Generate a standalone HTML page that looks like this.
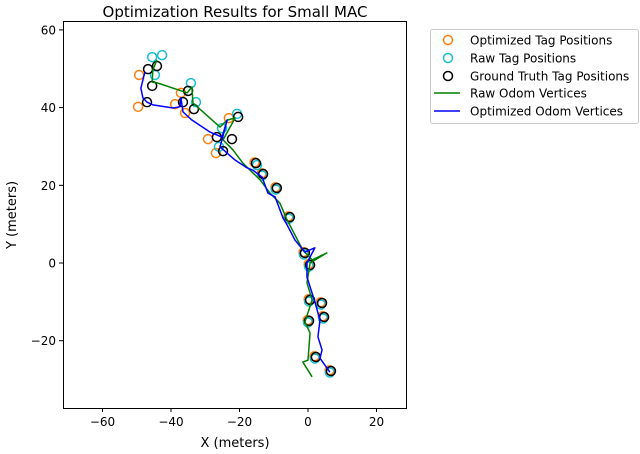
<!DOCTYPE html>
<html><head><meta charset="utf-8"><style>
html,body{margin:0;padding:0;background:#fff;}
svg{display:block;font-family:"DejaVu Sans","Liberation Sans",sans-serif;}
</style></head><body>
<svg id="chart" width="640" height="454" viewBox="0 0 640 454">
<text x="235" y="17" text-anchor="middle" font-size="15">Optimization Results for Small MAC</text>
<g id="plot"></g>
<rect x="63.5" y="21.5" width="343" height="387" fill="none" stroke="#000" stroke-width="1"/>
<g id="xticks"></g>
<g id="yticks"></g>
<text x="235" y="447" text-anchor="middle" font-size="13">X (meters)</text>
<text transform="translate(16,215) rotate(-90)" text-anchor="middle" font-size="13">Y (meters)</text>
<g>
<rect x="430.5" y="29.5" width="208" height="94" rx="2" fill="#fff" stroke="#ccc"/>
<g><circle cx="448" cy="40" r="4.5" fill="none" stroke="#ff7f0e" stroke-width="1.5"/><text x="470" y="44.5" font-size="12">Optimized Tag Positions</text></g>
<g><circle cx="448" cy="58" r="4.5" fill="none" stroke="#17becf" stroke-width="1.5"/><text x="470" y="62.5" font-size="12">Raw Tag Positions</text></g>
<g><circle cx="448" cy="76" r="4.5" fill="none" stroke="#000" stroke-width="1.5"/><text x="470" y="80.5" font-size="12">Ground Truth Tag Positions</text></g>
<g><line x1="434" y1="93" x2="460" y2="93" stroke="green" stroke-width="1.5"/><text x="470" y="97.5" font-size="12">Raw Odom Vertices</text></g>
<g><line x1="434" y1="111" x2="460" y2="111" stroke="blue" stroke-width="1.5"/><text x="470" y="115.5" font-size="12">Optimized Odom Vertices</text></g>
</g>
</svg>
<script>
const xTicks=[-60,-40,-20,0,20];
const yTicks=[-20,0,20,40,60];
const gtX=[-44.1,-46.7,-45.5,-47.0,-35.0,-36.5,-33.3,-20.4,-26.6,-22.2,-24.8,-15.2,-13.1,-9.1,-5.3,-0.9,0.6,0.6,4.1,0.3,4.7,2.3,6.7];
const gtY=[50.7,49.9,45.6,41.4,44.3,41.4,39.6,37.6,32.4,31.9,28.8,25.7,22.9,19.3,11.8,2.6,-0.5,-9.5,-10.3,-14.9,-13.9,-24.2,-27.8];
const rawX=[-42.6,-45.5,-44.7,-34.2,-32.7,-20.7,-25.1,-26.0,-14.9,-13.4,-9.4,-5.6,-1.2,0.3,0.3,3.8,0.0,4.4,2.0,6.4];
const rawY=[53.5,53.0,48.4,46.3,41.4,38.4,34.7,29.9,25.2,22.5,18.9,11.4,2.2,-0.9,-9.9,-10.7,-15.3,-14.3,-24.6,-28.2];
const optX=[-49.3,-49.6,-37.1,-38.8,-35.9,-23.1,-29.2,-26.9,-15.6,-13.5,-9.5,-5.7,-1.3,0.2,0.2,3.7,-0.1,4.3,1.9,6.3];
const optY=[48.4,40.2,43.8,40.9,38.6,37.3,31.9,28.3,25.9,23.1,19.5,12.0,2.8,-0.3,-9.3,-10.1,-14.7,-13.7,-24.0,-27.6];
const rawOdomX=[1.2,-1.5,0,0.6,-0.9,1.2,-0.3,0.6,5.5,1.2,-1.5,-6.1,-8.2,-11.1,-14.0,-19.0,-21.9,-24.8,-21.3,-23.6,-25.7,-33.6,-33.9,-35.3,-43.8,-45.5,-45.3,-44.1];
const rawOdomY=[-29.3,-25.5,-25.0,-18.0,-15.2,-9.5,-5.1,0,2.6,0.8,3.3,11.1,15.4,18.0,21.4,25.7,29.1,31.7,37.3,36.8,35.0,41.2,45.3,43.8,46.3,46.6,49.7,52.3];
const optOdomX=[6.4,3.5,4.1,2.9,3.5,2.0,-0.3,-0.3,2.0,-0.9,-3.8,-6.1,-7.3,-9.6,-11.7,-13.4,-16.1,-17.8,-21.3,-25.7,-25.1,-23.6,-25.1,-28.6,-33.9,-36.5,-37.1,-37.4,-39.4,-45.3,-47.0,-48.2,-48.8,-47.6];
const optOdomY=[-28.1,-24.5,-22.4,-19.0,-14.7,-10.0,-3.6,0,3.9,2.8,5.9,9.8,11.6,17.0,18.0,22.1,23.9,24.5,26.5,29.9,31.7,36.8,32.4,33.7,36.8,38.9,42.5,40.2,39.9,40.7,41.4,42.5,45.0,49.2];

const NS="http://www.w3.org/2000/svg";
function sx(v){return 308+v*3.425;}
function sy(v){return 263-v*3.885;}
const plot=document.getElementById('plot');
function mk(tag,attrs,parent){const e=document.createElementNS(NS,tag);for(const k in attrs)e.setAttribute(k,attrs[k]);parent.appendChild(e);return e;}

const xt=document.getElementById('xticks');
xTicks.forEach(v=>{
  const l=mk('line',{x1:sx(v),x2:sx(v),y1:408,y2:412,stroke:'#000'},xt);
  
  
  const t=mk('text',{x:sx(v),y:426,'text-anchor':'middle','font-size':12},xt);
  t.textContent=(v<0?'\u2212'+(-v):v);
  
  
});
const yt=document.getElementById('yticks');
yTicks.forEach(v=>{
  const l=mk('line',{x1:59,x2:63,y1:sy(v),y2:sy(v),stroke:'#000'},yt);
  
  
  const t=mk('text',{x:56,y:sy(v)+4.5,'text-anchor':'end','font-size':12},yt);
  t.textContent=(v<0?'\u2212'+(-v):v);
  
  
});

function scatter(xs,ys,color,name){
  xs.forEach((x,i)=>{
    const c=mk('circle',{cx:sx(x),cy:sy(ys[i]),r:4.5,fill:'none',stroke:color,'stroke-width':1.5},plot);
    
    
  });
}
function line(xs,ys,color,name){
  const p=mk('polyline',{points:xs.map((x,i)=>sx(x)+','+sy(ys[i])).join(' '),fill:'none',stroke:color,'stroke-width':1.5,'stroke-linejoin':'round'},plot);
  
  
}
scatter(optX,optY,'#ff7f0e','optimized-tag-point');
scatter(rawX,rawY,'#17becf','raw-tag-point');
scatter(gtX,gtY,'#000','ground-truth-tag-point');
line(rawOdomX,rawOdomY,'green','raw-odom-line');
line(optOdomX,optOdomY,'blue','optimized-odom-line');
</script>
</body></html>
